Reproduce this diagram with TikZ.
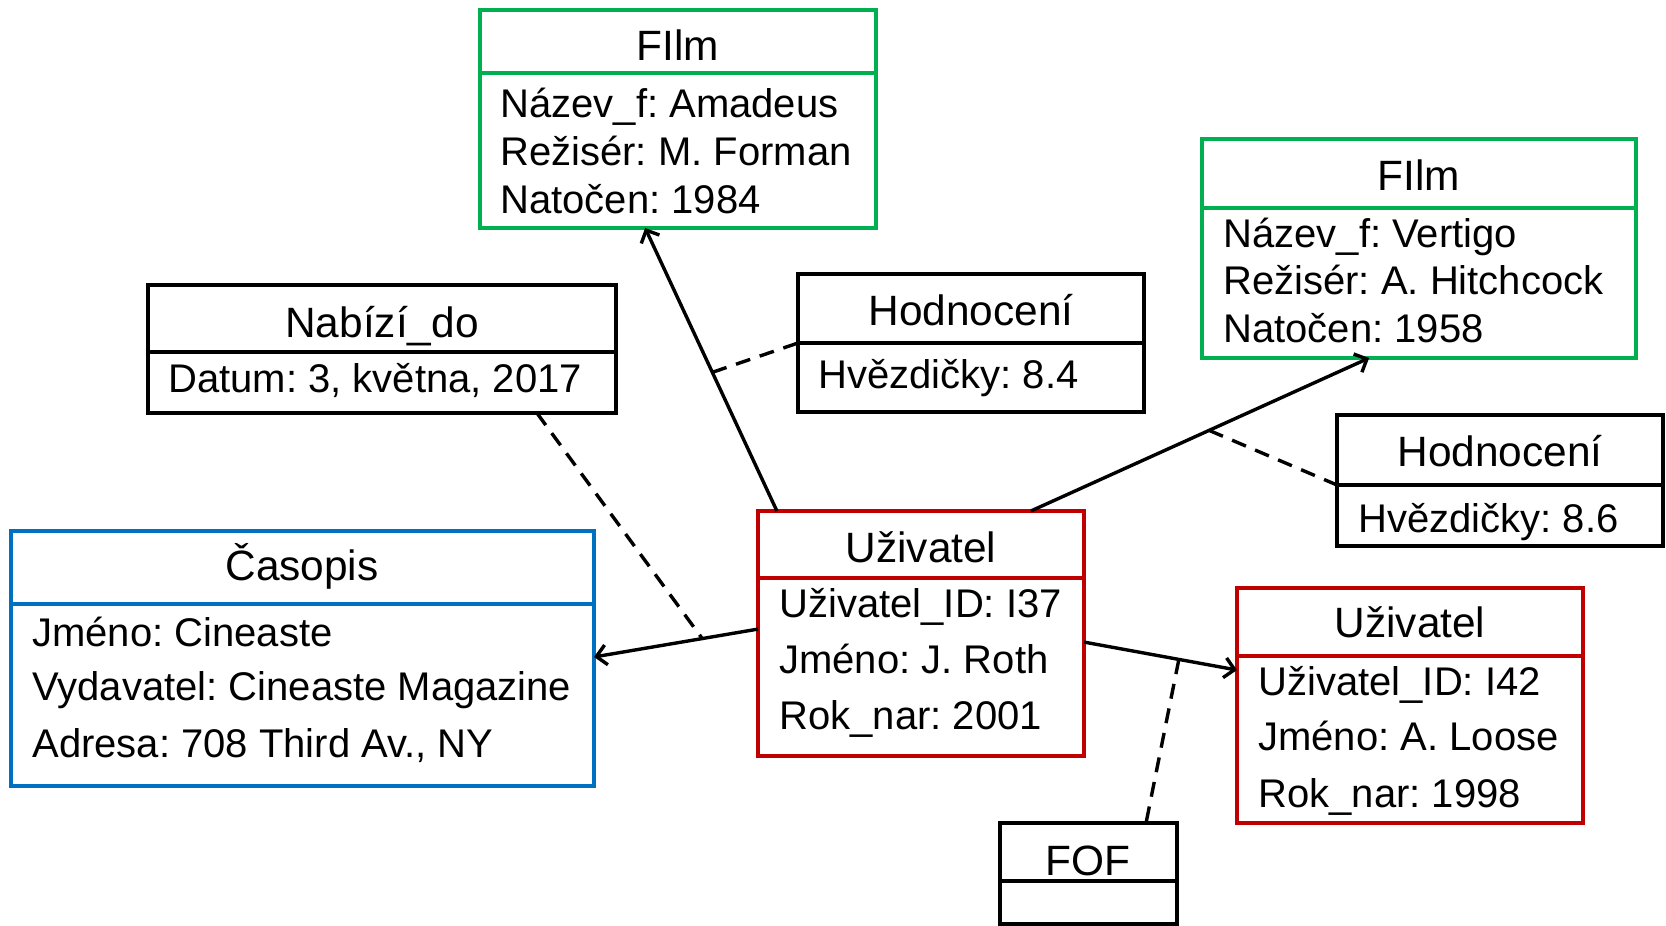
\documentclass[tikz,border=0pt]{standalone}
\usepackage{fontspec}
\setmainfont{Liberation Sans}
\usetikzlibrary{calc,arrows.meta}
\definecolor{filmgreen}{HTML}{00B050}
\definecolor{magblue}{HTML}{0070C0}
\definecolor{userred}{HTML}{C00000}
\frenchspacing
\begin{document}
\frenchspacing
\begin{tikzpicture}[x=0.5pt,y=-0.5pt,
 part/.style={draw, line width=2pt, inner sep=0pt, outer sep=0pt, anchor=north west},
 ttl/.style={inner sep=0pt, anchor=base, font=\fontsize{21.2}{25}\selectfont},
 attr/.style={inner sep=0pt, anchor=base west, font=\fontsize{20}{24}\selectfont},
 rel/.style={line width=1.7pt, -{Straight Barb[length=5pt,width=10pt]}},
 lnk/.style={line width=1.7pt, dash pattern=on 7.5pt off 5pt},
]
\useasboundingbox (0,0) rectangle (1666,926);

% Film 1
\node[part, draw=filmgreen, minimum width=198pt, minimum height=31.5pt] (f1h) at (480,10) {};
\node[part, draw=filmgreen, minimum width=198pt, minimum height=77.5pt] (f1b) at (f1h.south west) {};
\node[ttl] (f1t) at (678,61) {FIlm};
\node[attr] (f1a) at (500,117) {Název\_f: Amadeus};
\node[attr] (f1c) at (500,165) {Režisér: M. Forman};
\node[attr] (f1d) at (500,213) {Natočen: 1984};

% Film 2
\node[part, draw=filmgreen, minimum width=217pt, minimum height=34.5pt] (f2h) at (1202,139) {};
\node[part, draw=filmgreen, minimum width=217pt, minimum height=75pt] (f2b) at (f2h.south west) {};
\node[ttl] (f2t) at (1419,190) {FIlm};
\node[attr] (f2a) at (1223,247) {Název\_f: Vertigo};
\node[attr] (f2c) at (1223,294) {Režisér: A. Hitchcock};
\node[attr] (f2d) at (1223,342) {Natočen: 1958};

% Nabizi_do
\node[part, minimum width=234pt, minimum height=33.5pt] (nh) at (148,285) {};
\node[part, minimum width=234pt, minimum height=30.5pt] (nb) at (nh.south west) {};
\node[ttl] (nt) at (382,337) {Nabízí\_do};
\node[attr] (na) at (168,392) {Datum: 3, května, 2017};

% Hodnoceni 1
\node[part, minimum width=173pt, minimum height=34.5pt] (h1h) at (798,274) {};
\node[part, minimum width=173pt, minimum height=34.5pt] (h1b) at (h1h.south west) {};
\node[ttl] (h1t) at (971,325) {Hodnocení};
\node[attr] (h1a) at (818,388) {Hvězdičky: 8.4};

% Hodnoceni 2
\node[part, minimum width=163pt, minimum height=35pt] (h2h) at (1337,415) {};
\node[part, minimum width=163pt, minimum height=30.5pt] (h2b) at (h2h.south west) {};
\node[ttl] (h2t) at (1500,466) {Hodnocení};
\node[attr] (h2a) at (1358,532) {Hvězdičky: 8.6};

% Casopis
\node[part, draw=magblue, minimum width=291.5pt, minimum height=36.5pt] (ch) at (11,531) {};
\node[part, draw=magblue, minimum width=291.5pt, minimum height=91pt] (cb) at (ch.south west) {};
\node[ttl] (ct) at (302,580) {Časopis};
\node[attr] (ca) at (32,646) {Jméno: Cineaste};
\node[attr] (cc) at (32,700) {Vydavatel: Cineaste Magazine};
\node[attr] (cd) at (32,757) {Adresa: 708 Third Av., NY};

% Uzivatel 1
\node[part, draw=userred, minimum width=163pt, minimum height=33.5pt] (u1h) at (758,511) {};
\node[part, draw=userred, minimum width=163pt, minimum height=89pt] (u1b) at (u1h.south west) {};
\node[ttl] (u1t) at (921,562) {Uživatel};
\node[attr] (u1a) at (779,617) {Uživatel\_ID: I37};
\node[attr] (u1c) at (779,673) {Jméno: J. Roth};
\node[attr] (u1d) at (779,729) {Rok\_nar: 2001};

% Uzivatel 2
\node[part, draw=userred, minimum width=173pt, minimum height=34pt] (u2h) at (1237,588) {};
\node[part, draw=userred, minimum width=173pt, minimum height=83.5pt] (u2b) at (u2h.south west) {};
\node[ttl] (u2t) at (1410,637) {Uživatel};
\node[attr] (u2a) at (1258,695) {Uživatel\_ID: I42};
\node[attr] (u2c) at (1258,750) {Jméno: A. Loose};
\node[attr] (u2d) at (1258,807) {Rok\_nar: 1998};

% FOF
\node[part, minimum width=88.5pt, minimum height=29pt] (fh) at (1000,823) {};
\node[part, minimum width=88.5pt, minimum height=21.5pt] (fb) at (fh.south west) {};
\node[ttl] (ft) at (1088,875) {FOF};

% connectors
\draw[rel] ($(u1h.north west)!0.058!(u1h.north east)$) -- coordinate[pos=0.49] (m1)
  ($(f1b.south west)!0.417!(f1b.south east)$);
\draw[lnk] (m1) -- (h1h.south west);

\draw[rel] ($(u1h.north west)!0.837!(u1h.north east)$) -- coordinate[pos=0.527] (m2)
  ($(f2b.south west)!0.385!(f2b.south east)$);
\draw[lnk] (m2) -- (h2h.south west);

\draw[rel] ($(u1b.north west)!0.287!(u1b.south west)$) -- coordinate[pos=0.34] (m3)
  ($(cb.north east)!0.291!(cb.south east)$);
\draw[lnk] ($(nb.south west)!0.831!(nb.south east)$) -- (m3);

\draw[rel] ($(u1b.north east)!0.36!(u1b.south east)$) -- coordinate[pos=0.62] (m4)
  ($(u2b.north west)!0.084!(u2b.south west)$);
\draw[lnk] (m4) -- ($(fh.north west)!0.825!(fh.north east)$);
\end{tikzpicture}
\end{document}
